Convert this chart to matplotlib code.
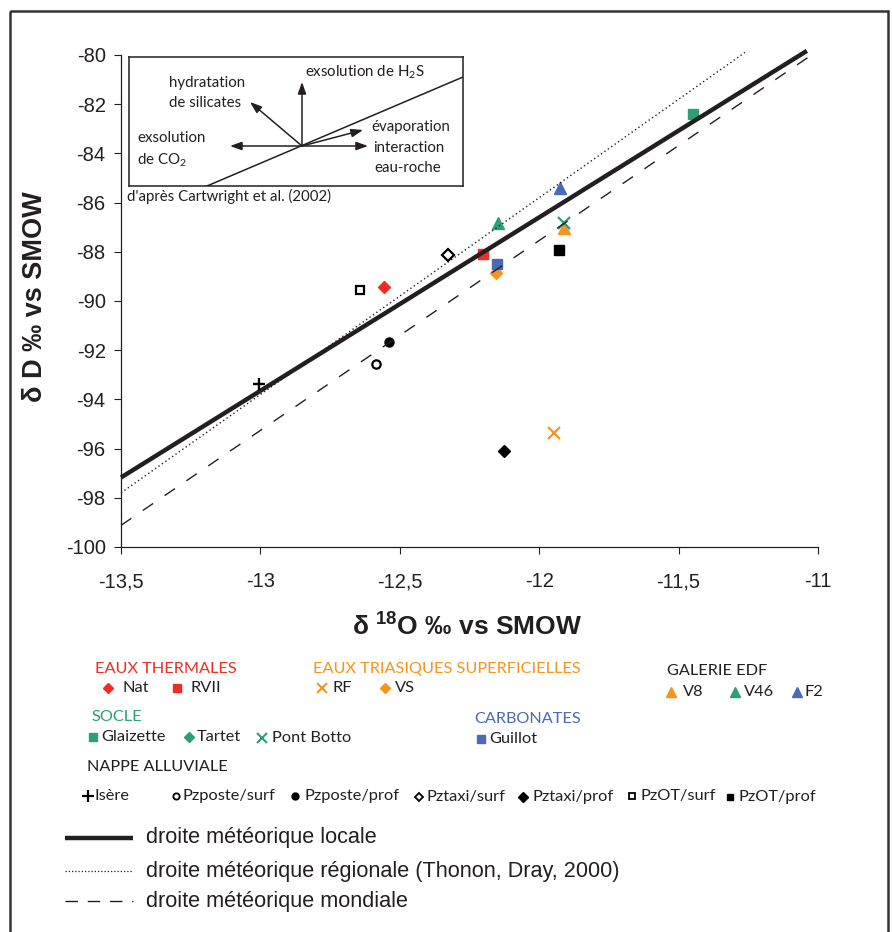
import matplotlib
matplotlib.use('Agg')
import matplotlib.pyplot as plt
from matplotlib.patches import Rectangle
from matplotlib.ticker import FuncFormatter
import numpy as np

plt.rcParams['axes.unicode_minus'] = False

# ---------------- data ----------------
# main plot points (delta18O, deltaD)
nat_x, nat_y = [-12.557], [-89.43]
rvii_x, rvii_y = [-12.20], [-88.09]
rf_x, rf_y = [-11.947], [-95.37]
vs_x, vs_y = [-12.155], [-88.86]
v8_x, v8_y = [-11.91], [-87.03]
v46_x, v46_y = [-12.148], [-86.83]
f2_x, f2_y = [-11.925], [-85.41]
glaizette_x, glaizette_y = [-11.448], [-82.40]
tartet_x, tartet_y = [], []
pontbotto_x, pontbotto_y = [-11.911], [-86.83]
guillot_x, guillot_y = [-12.151], [-88.50]
isere_x, isere_y = [-13.005], [-93.37]
pzposte_surf_x, pzposte_surf_y = [-12.585], [-92.56]
pzposte_prof_x, pzposte_prof_y = [-12.539], [-91.67]
pztaxi_surf_x, pztaxi_surf_y = [-12.327], [-88.13]
pztaxi_prof_x, pztaxi_prof_y = [-12.126], [-96.10]
pzot_surf_x, pzot_surf_y = [-12.643], [-89.55]
pzot_prof_x, pzot_prof_y = [-11.929], [-87.93]

# meteoric water lines: slope, intercept, x-range
local_line = (7.05, -2.0, [-13.5, -11.04])
regional_line = (8.0, 10.2, [-13.5, -11.262])
world_line = (7.72, 5.1, [-13.5, -11.02])

x_ticks = [-13.5, -13, -12.5, -12, -11.5, -11]
y_ticks = list(range(-100, -79, 2))

# ---------------- styling ----------------
RED = '#EE2E24'
ORANGE = '#F7941D'
GREEN = '#2E9E74'
BLUE = '#4A6AB5'
DARK = '#231F20'
LEGFONT = 'Lato'
W, H = 892, 932

fig = plt.figure(figsize=(W / 100, H / 100), dpi=100)


def fx(px):
    return px / W


def fy(py):
    return 1 - py / H


ax = fig.add_axes([fx(121), fy(547), (818 - 121) / W, (547 - 55) / H])
ax.set_xlim(-13.5, -11)
ax.set_ylim(-100, -80)
for s in ['top', 'right']:
    ax.spines[s].set_visible(False)
for s in ['left', 'bottom']:
    ax.spines[s].set_linewidth(0.9)
    ax.spines[s].set_color(DARK)
ax.set_xticks(x_ticks)
ax.set_yticks(y_ticks)
fmt = FuncFormatter(lambda v, p: ('%g' % v).replace('.', ','))
ax.xaxis.set_major_formatter(fmt)
ax.yaxis.set_major_formatter(fmt)
ax.tick_params(axis='both', direction='out', length=5, width=0.8, color=DARK,
               labelsize=14.5, labelcolor=DARK)
ax.tick_params(axis='x', pad=13)
ax.tick_params(axis='y', pad=6)
for lab in ax.get_xticklabels() + ax.get_yticklabels():
    lab.set_fontfamily('Liberation Sans')

# lines
for (sl, ic, xr), kw in [
    (local_line, dict(color=DARK, lw=3.2, solid_capstyle='butt')),
    (regional_line, dict(color=DARK, lw=1.0, linestyle=(0, (1, 2.0)))),
    (world_line, dict(color=DARK, lw=1.0, linestyle=(0, (9, 10)))),
]:
    xr = np.array(xr)
    ax.plot(xr, sl * xr + ic, zorder=5, clip_on=False, **kw)

# points
ax.plot(nat_x, nat_y, 'D', color=RED, ms=6.5, zorder=3)
ax.plot(rvii_x, rvii_y, 's', color=RED, ms=7, zorder=3)
ax.plot(rf_x, rf_y, 'x', color=ORANGE, ms=8.5, mew=1.6, zorder=3)
ax.plot(vs_x, vs_y, 'D', color=ORANGE, ms=6.5, zorder=3)
ax.plot(v8_x, v8_y, '^', color=ORANGE, ms=8, zorder=3)
ax.plot(v46_x, v46_y, '^', color=GREEN, ms=8, zorder=3)
ax.plot(f2_x, f2_y, '^', color=BLUE, ms=8, zorder=3)
ax.plot(glaizette_x, glaizette_y, 's', color=GREEN, ms=7, zorder=3)
ax.plot(tartet_x, tartet_y, 'D', color=GREEN, ms=6.5, zorder=3)
ax.plot(pontbotto_x, pontbotto_y, 'x', color=GREEN, ms=8.5, mew=1.6, zorder=4)
ax.plot(guillot_x, guillot_y, 's', color=BLUE, ms=7, zorder=3)
ax.plot(isere_x, isere_y, '+', color='black', ms=8.5, mew=1.7, zorder=6)
ax.plot(pzposte_surf_x, pzposte_surf_y, 'o', mfc='white', mec='black', mew=1.6, ms=6, zorder=3)
ax.plot(pzposte_prof_x, pzposte_prof_y, 'o', color='black', ms=6.5, zorder=3)
ax.plot(pztaxi_surf_x, pztaxi_surf_y, 'D', mfc='white', mec='black', mew=1.6, ms=6, zorder=3)
ax.plot(pztaxi_prof_x, pztaxi_prof_y, 'D', color='black', ms=6.5, zorder=3)
ax.plot(pzot_surf_x, pzot_surf_y, 's', mfc='white', mec='black', mew=1.6, ms=6, zorder=3)
ax.plot(pzot_prof_x, pzot_prof_y, 's', color='black', ms=7, zorder=3)

# axis titles
fig.text(fx(35), fy(297), 'δ D ‰ vs SMOW', rotation=90, ha='center', va='center',
         fontsize=19.5, fontweight='bold', family='Liberation Sans', color=DARK)
fig.text(fx(467), fy(627), 'δ $\\mathregular{^{18}}$O ‰ vs SMOW', ha='center', va='center',
         fontsize=19, fontweight='bold', family='Liberation Sans', color=DARK)

# ---------------- inset schematic ----------------
inset_center = (302, 146)
inset_arrows = [(302, 82), (250, 102), (230, 146), (368, 146), (363, 130)]
inset_line = ([207, 463], [186, 77])
ins = fig.add_axes([fx(129), fy(186), (463 - 129) / W, (186 - 57) / H])
ins.set_xlim(129, 463)
ins.set_ylim(186, 57)
ins.set_xticks([])
ins.set_yticks([])
for s in ins.spines.values():
    s.set_linewidth(1.1)
    s.set_color(DARK)
ins.plot(inset_line[0], inset_line[1], color=DARK, lw=1.1)
for end in inset_arrows:
    ins.annotate('', xy=end, xytext=inset_center,
                 arrowprops=dict(arrowstyle='-|>,head_length=0.7,head_width=0.25',
                                 lw=1.1, color=DARK, shrinkA=0, shrinkB=0))
inset_texts = [
    (305, 72, 'exsolution de H$\\mathregular{_2}$S'),
    (169, 83, 'hydratation'),
    (169, 103, 'de silicates'),
    (137, 138, 'exsolution'),
    (137, 160, 'de CO$\\mathregular{_2}$'),
    (371, 127, 'évaporation'),
    (373, 148, 'interaction'),
    (374, 168, 'eau-roche'),
]
for x, y, t in inset_texts:
    ins.text(x, y, t, ha='left', va='center', fontsize=10.8, family=LEGFONT, color=DARK)

# ---------------- overlay (legends, source, frame) ----------------
ov = fig.add_axes([0, 0, 1, 1])
ov.set_xlim(0, W)
ov.set_ylim(H, 0)
ov.axis('off')
ov.patch.set_alpha(0)

ov.text(127, 196, "d'après Cartwright et al. (2002)", ha='left', va='center',
        fontsize=10.8, family=LEGFONT, color=DARK)

headers = [
    (95, 669, 'EAUX THERMALES', RED),
    (313, 669, 'EAUX TRIASIQUES SUPERFICIELLES', ORANGE),
    (667, 671, 'GALERIE EDF', DARK),
    (91, 717, 'SOCLE', GREEN),
    (474, 719, 'CARBONATES', BLUE),
    (87, 767, 'NAPPE ALLUVIALE', DARK),
]
for x, y, t, c in headers:
    ov.text(x, y, t, ha='left', va='center', fontsize=11.7, family=LEGFONT, color=c)

# (marker x, text x, y, label, marker, style)
items = [
    (108, 122, 688, 'Nat', 'D', dict(color=RED, ms=5)),
    (177, 191, 688, 'RVII', 's', dict(color=RED, ms=5.5)),
    (322, 333, 688, 'RF', 'x', dict(color=ORANGE, ms=6.5, mew=1.5)),
    (385, 395, 688, 'VS', 'D', dict(color=ORANGE, ms=5)),
    (671, 683, 692, 'V8', '^', dict(color=ORANGE, ms=7)),
    (735, 744, 692, 'V46', '^', dict(color=GREEN, ms=7)),
    (797, 804, 692, 'F2', '^', dict(color=BLUE, ms=7)),
    (93, 101, 737, 'Glaizette', 's', dict(color=GREEN, ms=5.5)),
    (189, 197, 737, 'Tartet', 'D', dict(color=GREEN, ms=5)),
    (262, 272, 738, 'Pont Botto', 'x', dict(color=GREEN, ms=6.5, mew=1.5)),
    (481, 489, 739, 'Guillot', 's', dict(color=BLUE, ms=5.5)),
    (88, 95, 796, 'Isère', '+', dict(color='black', ms=8, mew=1.6)),
    (176, 183, 796, 'Pzposte/surf', 'o', dict(mfc='white', mec='black', mew=1.3, ms=4.5)),
    (295, 305, 796, 'Pzposte/prof', 'o', dict(color='black', ms=5)),
    (419, 427, 797, 'Pztaxi/surf', 'D', dict(mfc='white', mec='black', mew=1.3, ms=4.5)),
    (523, 532, 797, 'Pztaxi/prof', 'D', dict(color='black', ms=5)),
    (632, 640, 796, 'PzOT/surf', 's', dict(mfc='white', mec='black', mew=1.3, ms=4.5)),
    (730, 738, 797, 'PzOT/prof', 's', dict(color='black', ms=5)),
]
for mx, tx, y, lab, mk, st in items:
    ov.plot([mx], [y], mk, linestyle='none', **st)
    ov.text(tx, y, lab, ha='left', va='center', fontsize=11.8, family=LEGFONT, color=DARK)

line_legend = [
    (838, 'droite météorique locale', dict(lw=3.2, solid_capstyle='butt')),
    (871, 'droite météorique régionale (Thonon, Dray, 2000)', dict(lw=0.9, linestyle=(0, (1, 1.6)))),
    (901, 'droite météorique mondiale', dict(lw=1.0, linestyle=(0, (9, 7)))),
]
for y, lab, st in line_legend:
    ov.plot([65, 133], [y, y], color=DARK, **st)
    ov.text(146, y, lab, ha='left', va='center', fontsize=15.6, family='Liberation Sans', color=DARK)

ov.add_patch(Rectangle((10, 11), 878, 940, fill=False, lw=1.8, edgecolor='#333333', clip_on=False))

fig.savefig('out.png', dpi=100)
